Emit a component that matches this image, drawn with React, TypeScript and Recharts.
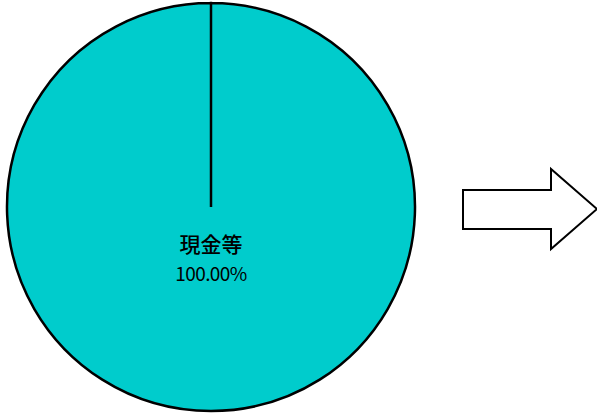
import { PieChart, Pie, Cell } from "recharts";

const categories = ["現金等"];
const shares = [100];
const sliceColors = ["#00CCCC"];

const pieData = categories.map((name, i) => ({ name, value: shares[i] }));

const renderLabel = (props: any) => {
  const { cx, cy, name, percent } = props;
  return (
    <g>
      <text
        x={cx}
        y={cy + 36}
        textAnchor="middle"
        dominantBaseline="central"
        fill="#000"
        style={{ fontSize: 21, fontWeight: 500, fontFamily: "'Noto Sans CJK JP', sans-serif" }}
      >
        {name}
      </text>
      <text
        x={cx}
        y={cy + 65}
        textAnchor="middle"
        dominantBaseline="central"
        fill="#000"
        style={{
          fontSize: 19,
          letterSpacing: -0.6,
          fontFamily: "'Noto Sans CJK JP', sans-serif",
        }}
      >
        {(percent * 100).toFixed(2)}%
      </text>
    </g>
  );
};

export default function App() {
  return (
    <div
      style={{
        position: "absolute",
        left: 0,
        top: 0,
        width: 597,
        height: 415,
        background: "#fff",
      }}
    >
      <PieChart width={597} height={415} margin={{ top: 0, right: 0, bottom: 0, left: 0 }}>
        <Pie
          data={pieData}
          dataKey="value"
          nameKey="name"
          cx={211}
          cy={207}
          outerRadius={204}
          startAngle={90}
          endAngle={-270}
          stroke="#000"
          strokeWidth={2.5}
          label={renderLabel}
          labelLine={false}
          isAnimationActive={false}
        >
          {pieData.map((entry, i) => (
            <Cell key={entry.name} fill={sliceColors[i]} />
          ))}
        </Pie>
      </PieChart>
      {/* 右向きの矢印 */}
      <svg
        width={597}
        height={415}
        style={{ position: "absolute", left: 0, top: 0, pointerEvents: "none" }}
      >
        <polygon
          points="463,190 551,190 551,169 597,209 551,249 551,229 463,229"
          fill="#fff"
          stroke="#000"
          strokeWidth={2}
        />
      </svg>
    </div>
  );
}
